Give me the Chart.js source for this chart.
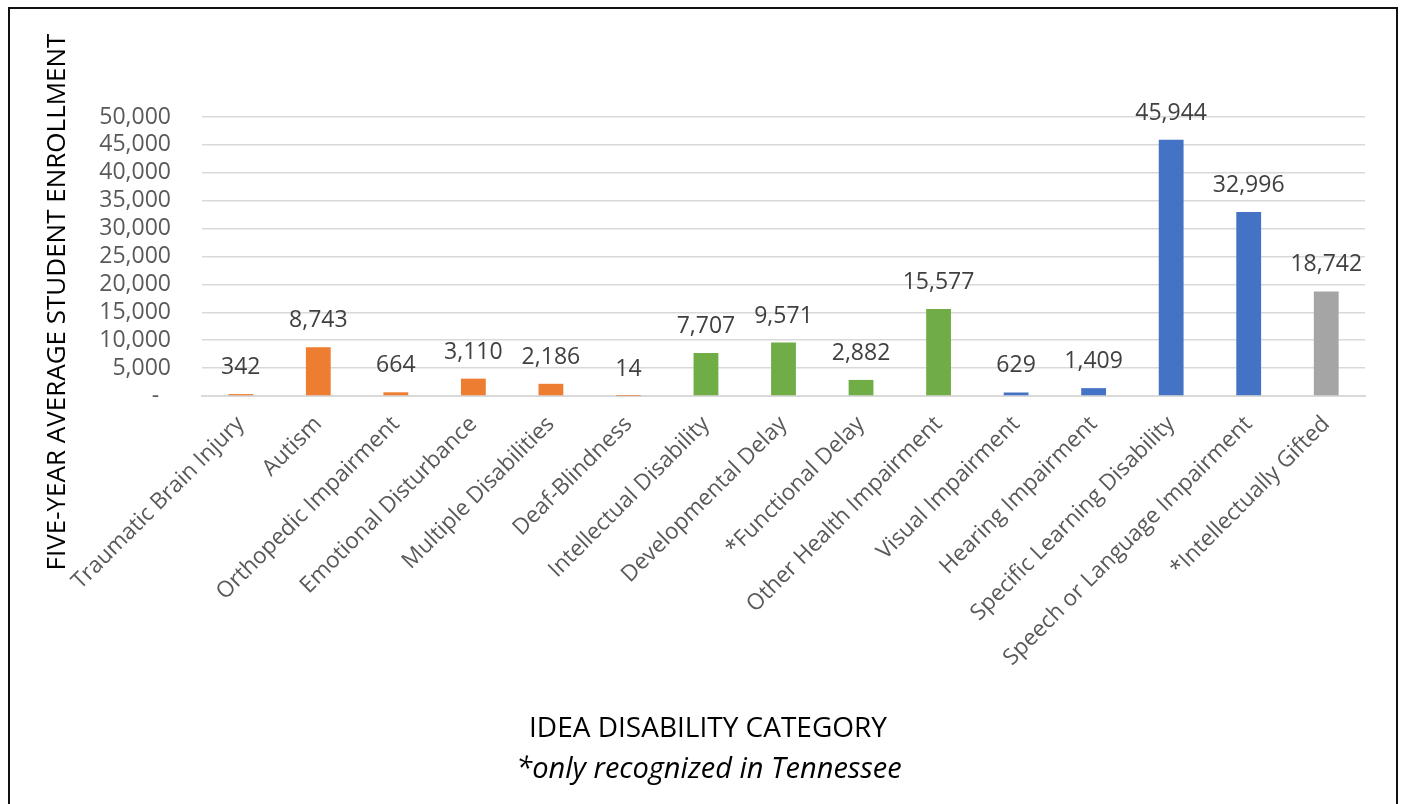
<!DOCTYPE html>
<html>
<head>
<meta charset="utf-8">
<script src="https://cdn.jsdelivr.net/npm/chart.js@4/dist/chart.umd.min.js"></script>
<style>
  html, body { margin: 0; padding: 0; background: #fff; overflow: hidden; }
  #wrap { position: relative; width: 1403px; height: 804px; }
  #frame { position: absolute; left: 8px; top: 7px; width: 1386px; height: 900px; border: 2px solid #111; box-sizing: content-box; }
  canvas { position: absolute; left: 0; top: 0; }
</style>
</head>
<body>
<div id="wrap">
  <div id="frame"></div>
  <canvas id="c" width="1403" height="804"></canvas>
</div>
<script>
// ---- data ----
const categories = [
  "Traumatic Brain Injury", "Autism", "Orthopedic Impairment", "Emotional Disturbance",
  "Multiple Disabilities", "Deaf-Blindness", "Intellectual Disability", "Developmental Delay",
  "*Functional Delay", "Other Health Impairment", "Visual Impairment", "Hearing Impairment",
  "Specific Learning Disability", "Speech or Language Impairment", "*Intellectually Gifted"
];
const enrollment = [342, 8743, 664, 3110, 2186, 14, 7707, 9571, 2882, 15577, 629, 1409, 45944, 32996, 18742];
const yTicks = [0, 5000, 10000, 15000, 20000, 25000, 30000, 35000, 40000, 45000, 50000];
const yTitle = "FIVE-YEAR AVERAGE STUDENT ENROLLMENT";
const xTitle = "IDEA DISABILITY CATEGORY";
const xSubtitle = "*only recognized in Tennessee";

// ---- styles ----
const ORANGE = "#ED7D31", GREEN = "#70AD47", BLUE = "#4472C4", GREY = "#A5A5A5";
const barColors = [ORANGE, ORANGE, ORANGE, ORANGE, ORANGE, ORANGE, GREEN, GREEN, GREEN, GREEN, BLUE, BLUE, BLUE, BLUE, GREY];
const FONT = "'Open Sans', 'DejaVu Sans', sans-serif";
const fmt = v => v.toLocaleString('en-US');

const extraText = {
  id: 'extraText',
  afterDatasetsDraw(chart) {
    const ctx = chart.ctx;
    const meta = chart.getDatasetMeta(0);
    ctx.save();
    ctx.fillStyle = '#404040';
    ctx.font = `23px ${FONT}`;
    ctx.textAlign = 'center';
    ctx.textBaseline = 'alphabetic';
    meta.data.forEach((bar, i) => {
      ctx.fillText(fmt(enrollment[i]), bar.x, bar.y - 20);
    });
    ctx.restore();
  },
  afterDraw(chart) {
    const ctx = chart.ctx;
    ctx.save();
    ctx.fillStyle = '#000';
    ctx.textAlign = 'center';
    ctx.textBaseline = 'middle';
    // y title
    ctx.save();
    ctx.translate(58, 302);
    ctx.rotate(-Math.PI / 2);
    ctx.font = `26px ${FONT}`;
    ctx.fillText(yTitle, 0, 0);
    ctx.restore();
    // x title
    ctx.font = `28px ${FONT}`;
    ctx.fillText(xTitle, 708, 729);
    ctx.font = `italic 29px ${FONT}`;
    ctx.fillText(xSubtitle, 709, 770);
    ctx.restore();
  }
};

new Chart(document.getElementById('c'), {
  type: 'bar',
  data: {
    labels: categories,
    datasets: [{
      data: enrollment,
      backgroundColor: barColors,
      borderWidth: 0,
      categoryPercentage: 1,
      barPercentage: 0.32
    }]
  },
  options: {
    responsive: false,
    animation: false,
    devicePixelRatio: 1,
    layout: { padding: { top: 117, right: 38, left: 0, bottom: 0 } },
    plugins: { legend: { display: false }, tooltip: { enabled: false } },
    scales: {
      x: {
        grid: { display: false, drawTicks: false },
        border: { display: true, color: '#D9D9D9', width: 2 },
        ticks: {
          color: '#595959',
          font: { family: FONT, size: 22.5 },
          minRotation: 45, maxRotation: 45,
          padding: 15,
          autoSkip: false
        },
        afterFit(scale) { scale.height = 804 - 396; }
      },
      y: {
        min: 0, max: 50000,
        grid: { color: '#D9D9D9', lineWidth: 1.5, drawTicks: false },
        border: { display: false },
        afterBuildTicks(scale) { scale.ticks = yTicks.map(v => ({ value: v })); },
        ticks: {
          color: '#595959',
          font: { family: FONT, size: 23 },
          padding: 31,
          autoSkip: false,
          callback: v => v === 0 ? '-  ' : fmt(v)
        },
        afterFit(scale) { scale.width = 202; }
      }
    }
  },
  plugins: [extraText]
});
</script>
</body>
</html>
